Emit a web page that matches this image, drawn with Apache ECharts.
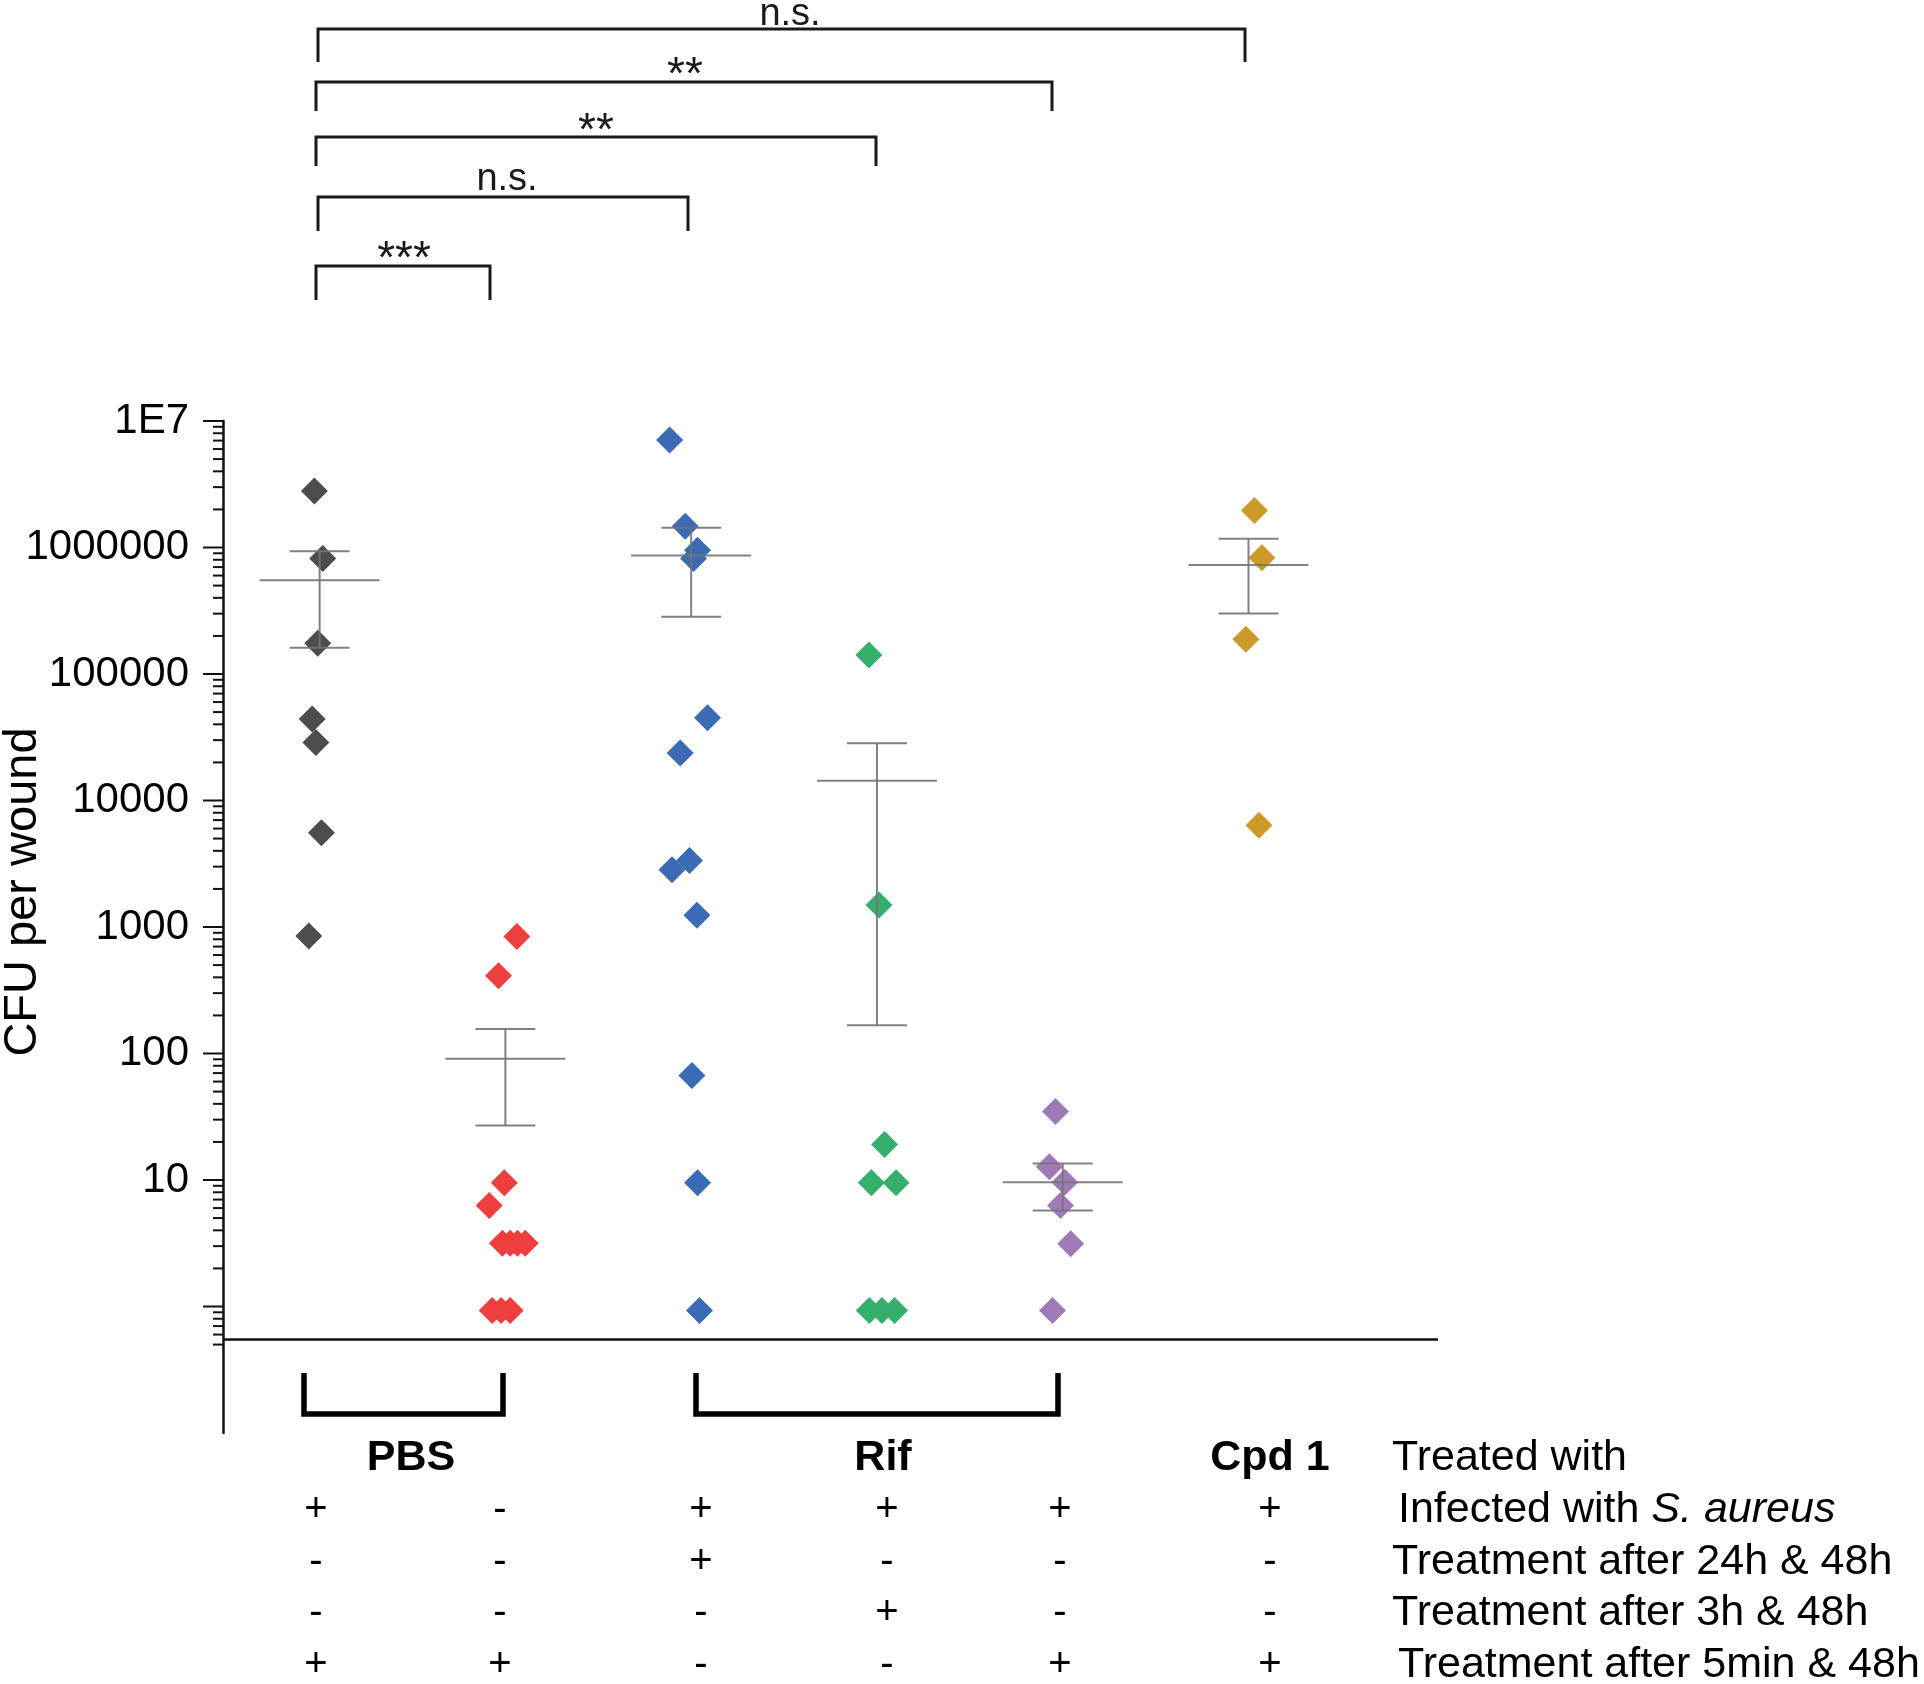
<!DOCTYPE html>
<html><head><meta charset="utf-8">
<script src="https://cdn.jsdelivr.net/npm/echarts@6/dist/echarts.min.js"></script>
<style>html,body{margin:0;padding:0;background:#fff}#c{width:1924px;height:1684px}</style>
</head><body><div id="c"></div>
<script>
// ---------------- DATA ----------------
const groupNames = ['PBS infected', 'PBS uninfected', 'Rif 24h & 48h', 'Rif 3h & 48h', 'Rif 5min & 48h', 'Cpd 1 5min & 48h'];
const groupPos = [1, 2, 3, 4, 5, 6];

const grayValues   = [2.8e6, 8.2e5, 1.75e5, 4.4e4, 2.87e4, 5.55e3, 849];
const grayJitter   = [-0.028, 0.017, -0.010, -0.040, -0.020, 0.010, -0.058];
const redValues    = [843, 412, 9.5, 6.3, 3.16, 3.16, 3.16, 3.16, 0.93, 0.93, 0.93];
const redJitter    = [0.062, -0.037, -0.006, -0.087, -0.016, 0.026, 0.065, 0.107, -0.071, -0.023, 0.026];
const blueValues   = [7.08e6, 1.47e6, 9.5e5, 8.2e5, 4.52e4, 2.37e4, 3.36e3, 2.83e3, 1.24e3, 67, 9.5, 0.93];
const blueJitter   = [-0.116, -0.032, 0.034, 0.013, 0.088, -0.059, -0.009, -0.103, 0.031, 0.004, 0.034, 0.045];
const greenValues  = [1.41e5, 1.49e3, 19.1, 9.5, 9.5, 0.93, 0.93, 0.93];
const greenJitter  = [-0.043, 0.011, 0.041, -0.030, 0.103, -0.041, 0.027, 0.095];
const purpleValues = [34.8, 12.7, 9.6, 6.3, 3.14, 0.93];
const purpleJitter = [-0.039, -0.072, 0.011, -0.012, 0.043, -0.055];
const goldValues   = [1.96e6, 8.3e5, 1.88e5, 6.37e3];
const goldJitter   = [0.032, 0.072, -0.014, 0.056];

const meanValues  = [5.5e5, 91, 8.66e5, 1.43e4, 9.6, 7.28e5];
const semLower    = [1.61e5, 27, 2.84e5, 167, 5.75, 3.01e5];
const semUpper    = [9.36e5, 156, 1.43e6, 2.84e4, 13.5, 1.17e6];

const yTickValues = [1, 10, 100, 1000, 10000, 100000, 1000000, 10000000];
const yTickLabels = ['', '10', '100', '1000', '10000', '100000', '1000000', '1E7'];
const yAxisTitle = 'CFU per wound';

const sigLabels = ['n.s.', '**', '**', 'n.s.', '***'];
const treatedWith = ['PBS', 'Rif', 'Cpd 1'];
const rowLabels = ['Treated with', 'Infected with ', 'Treatment after 24h & 48h', 'Treatment after 3h & 48h', 'Treatment after 5min & 48h'];
const rowInfected = ['+', '-', '+', '+', '+', '+'];
const row24h      = ['-', '-', '+', '-', '-', '-'];
const row3h       = ['-', '-', '-', '+', '-', '-'];
const row5min     = ['+', '+', '-', '-', '+', '+'];

// ---------------- STYLE / LAYOUT ----------------
const colors = ['#4D4D4D', '#EE3E3E', '#3A6BB4', '#36AE6C', '#A07AB8', '#CC9A2B'];
const X_MIN = 0.48, X_MAX = 7.02, Y_MIN = 0.1, Y_MAX = 1e7;
const AXIS_Y_AT = 0.548; // where the horizontal baseline crosses
const FONT = '"Liberation Sans", Arial, sans-serif';
const SIGFONT = '"Liberation Sans Narrow", "Liberation Sans", Arial, sans-serif';

const groupsVals = [grayValues, redValues, blueValues, greenValues, purpleValues, goldValues];
const groupsJit = [grayJitter, redJitter, blueJitter, greenJitter, purpleJitter, goldJitter];

const scatterSeries = groupsVals.map((vals, g) => ({
  name: groupNames[g],
  type: 'scatter',
  symbol: 'diamond',
  symbolSize: 27,
  itemStyle: { color: colors[g], opacity: 1 },
  z: 2,
  data: vals.map((v, i) => [groupPos[g] + groupsJit[g][i], v])
}));

// tick values (axis decoration: majors + log minors)
const tickData = [];
for (let k = 0; k < 7; k++) {
  for (let m = 1; m <= 9; m++) tickData.push([X_MIN, m * Math.pow(10, k), m === 1 ? 1 : 0]);
}
tickData.push([X_MIN, 1e7, 1]);
[0.9, 0.8, 0.7, 0.6, 0.5].forEach(v => tickData.push([X_MIN, v, 0]));

const errData = groupPos.map((p, i) => [p, meanValues[i], semLower[i], semUpper[i]]);

const option = {
  backgroundColor: '#fff',
  animation: false,
  grid: { left: 223, right: 486, top: 421, bottom: 251, containLabel: false },
  xAxis: { type: 'value', min: X_MIN, max: X_MAX, show: false },
  yAxis: {
    type: 'log', logBase: 10, min: Y_MIN, max: Y_MAX, interval: 1, splitNumber: 8,
    axisLine: { show: true, lineStyle: { color: '#111', width: 2.5 } },
    axisTick: { show: false },
    splitLine: { show: false },
    minorTick: { show: false },
    axisLabel: {
      fontSize: 42, fontFamily: FONT, color: '#000', margin: 34,
      formatter: function (v) {
        for (let i = 0; i < yTickValues.length; i++) {
          if (Math.abs(Math.log10(v) - Math.log10(yTickValues[i])) < 1e-6) return yTickLabels[i];
        }
        return '';
      }
    }
  },
  series: scatterSeries.concat([
    {
      type: 'custom', name: 'yTicks', clip: false, silent: true, z: 1,
      data: tickData,
      renderItem: function (params, api) {
        const p = api.coord([api.value(0), api.value(1)]);
        const len = api.value(2) === 1 ? 20 : 10;
        return { type: 'line', shape: { x1: p[0] - len, y1: p[1], x2: p[0], y2: p[1] }, style: { stroke: '#111', lineWidth: 2 } };
      }
    },
    {
      type: 'custom', name: 'baseline', clip: false, silent: true, z: 1,
      data: [[X_MIN, AXIS_Y_AT, X_MAX]],
      renderItem: function (params, api) {
        const a = api.coord([api.value(0), api.value(1)]);
        const b = api.coord([api.value(2), api.value(1)]);
        return { type: 'line', shape: { x1: a[0], y1: a[1], x2: b[0], y2: b[1] }, style: { stroke: '#111', lineWidth: 2.5 } };
      }
    },
    {
      type: 'custom', name: 'mean ± SEM', clip: false, silent: true, z: 5,
      data: errData,
      renderItem: function (params, api) {
        const c = api.coord([api.value(0), api.value(1)]);
        const lo = api.coord([api.value(0), api.value(2)]);
        const hi = api.coord([api.value(0), api.value(3)]);
        const st = { stroke: 'rgba(115,115,115,0.9)', lineWidth: 2 };
        return {
          type: 'group', children: [
            { type: 'line', shape: { x1: lo[0], y1: lo[1], x2: hi[0], y2: hi[1] }, style: st },
            { type: 'line', shape: { x1: lo[0] - 30, y1: lo[1], x2: lo[0] + 30, y2: lo[1] }, style: st },
            { type: 'line', shape: { x1: hi[0] - 30, y1: hi[1], x2: hi[0] + 30, y2: hi[1] }, style: st },
            { type: 'line', shape: { x1: c[0] - 60, y1: c[1], x2: c[0] + 60, y2: c[1] }, style: st }
          ]
        };
      }
    }
  ])
};

// ---------------- ANNOTATIONS ----------------
const g = [];
// y axis title
g.push({ type: 'text', x: 23, y: 892, rotation: Math.PI / 2,
  style: { text: yAxisTitle, fontSize: 47, fontFamily: FONT, fill: '#000', align: 'center', verticalAlign: 'middle' } });

// significance brackets [left, right, yTop, yBottom, textX, textY]
const brackets = [
  [318, 1245, 29, 62, 790, 15],
  [316, 1052, 82, 111, 685, 70],
  [316, 876, 137, 166, 596, 126],
  [318, 688, 197, 231, 507, 180],
  [316, 490, 266, 300, 404, 254]
];
brackets.forEach((b, i) => {
  g.push({ type: 'polyline', shape: { points: [[b[0], b[3]], [b[0], b[2]], [b[1], b[2]], [b[1], b[3]]] },
    style: { stroke: '#1a1a1a', lineWidth: 3, fill: null } });
  const isStar = sigLabels[i].indexOf('*') >= 0;
  g.push({ type: 'text', x: b[4], y: b[5] + (isStar ? 6 : 0),
    style: { text: sigLabels[i], fontSize: isStar ? 46 : 38, fontFamily: SIGFONT, fill: '#1a1a1a', align: 'center', verticalAlign: 'middle' } });
});

// bottom group brackets
[[304, 503], [696, 1058]].forEach(b => {
  g.push({ type: 'polyline', shape: { points: [[b[0], 1373], [b[0], 1414], [b[1], 1414], [b[1], 1373]] },
    style: { stroke: '#000', lineWidth: 5.5, fill: null, lineJoin: 'miter' } });
});

// table
const colX = [316, 500, 701, 887, 1060, 1270];
const rowY = [1458, 1510, 1562, 1613, 1665];
const treatedX = [411, 883, 1270];
treatedWith.forEach((t, i) => g.push({ type: 'text', x: treatedX[i], y: rowY[0],
  style: { text: t, fontSize: 43, fontWeight: 'bold', fontFamily: FONT, fill: '#000', align: 'center', verticalAlign: 'middle' } }));
[rowInfected, row24h, row3h, row5min].forEach((row, r) => {
  row.forEach((s, c) => g.push({ type: 'text', x: colX[c], y: rowY[r + 1],
    style: { text: s, fontSize: 40, fontFamily: FONT, fill: '#000', align: 'center', verticalAlign: 'middle' } }));
});
const labelX = [1392, 1398, 1392, 1392, 1398];
rowLabels.forEach((t, r) => {
  const st = { text: t, fontSize: 43, fontFamily: FONT, fill: '#000', align: 'left', verticalAlign: 'middle' };
  if (r === 1) {
    st.text = t + '{i|S. aureus}';
    st.rich = { i: { fontSize: 43, fontFamily: FONT, fontStyle: 'italic', fill: '#000' } };
  }
  g.push({ type: 'text', x: labelX[r], y: rowY[r], style: st });
});
option.graphic = { elements: g };

const chart = echarts.init(document.getElementById('c'), null, { renderer: 'canvas' });
chart.setOption(option);
</script></body></html>
